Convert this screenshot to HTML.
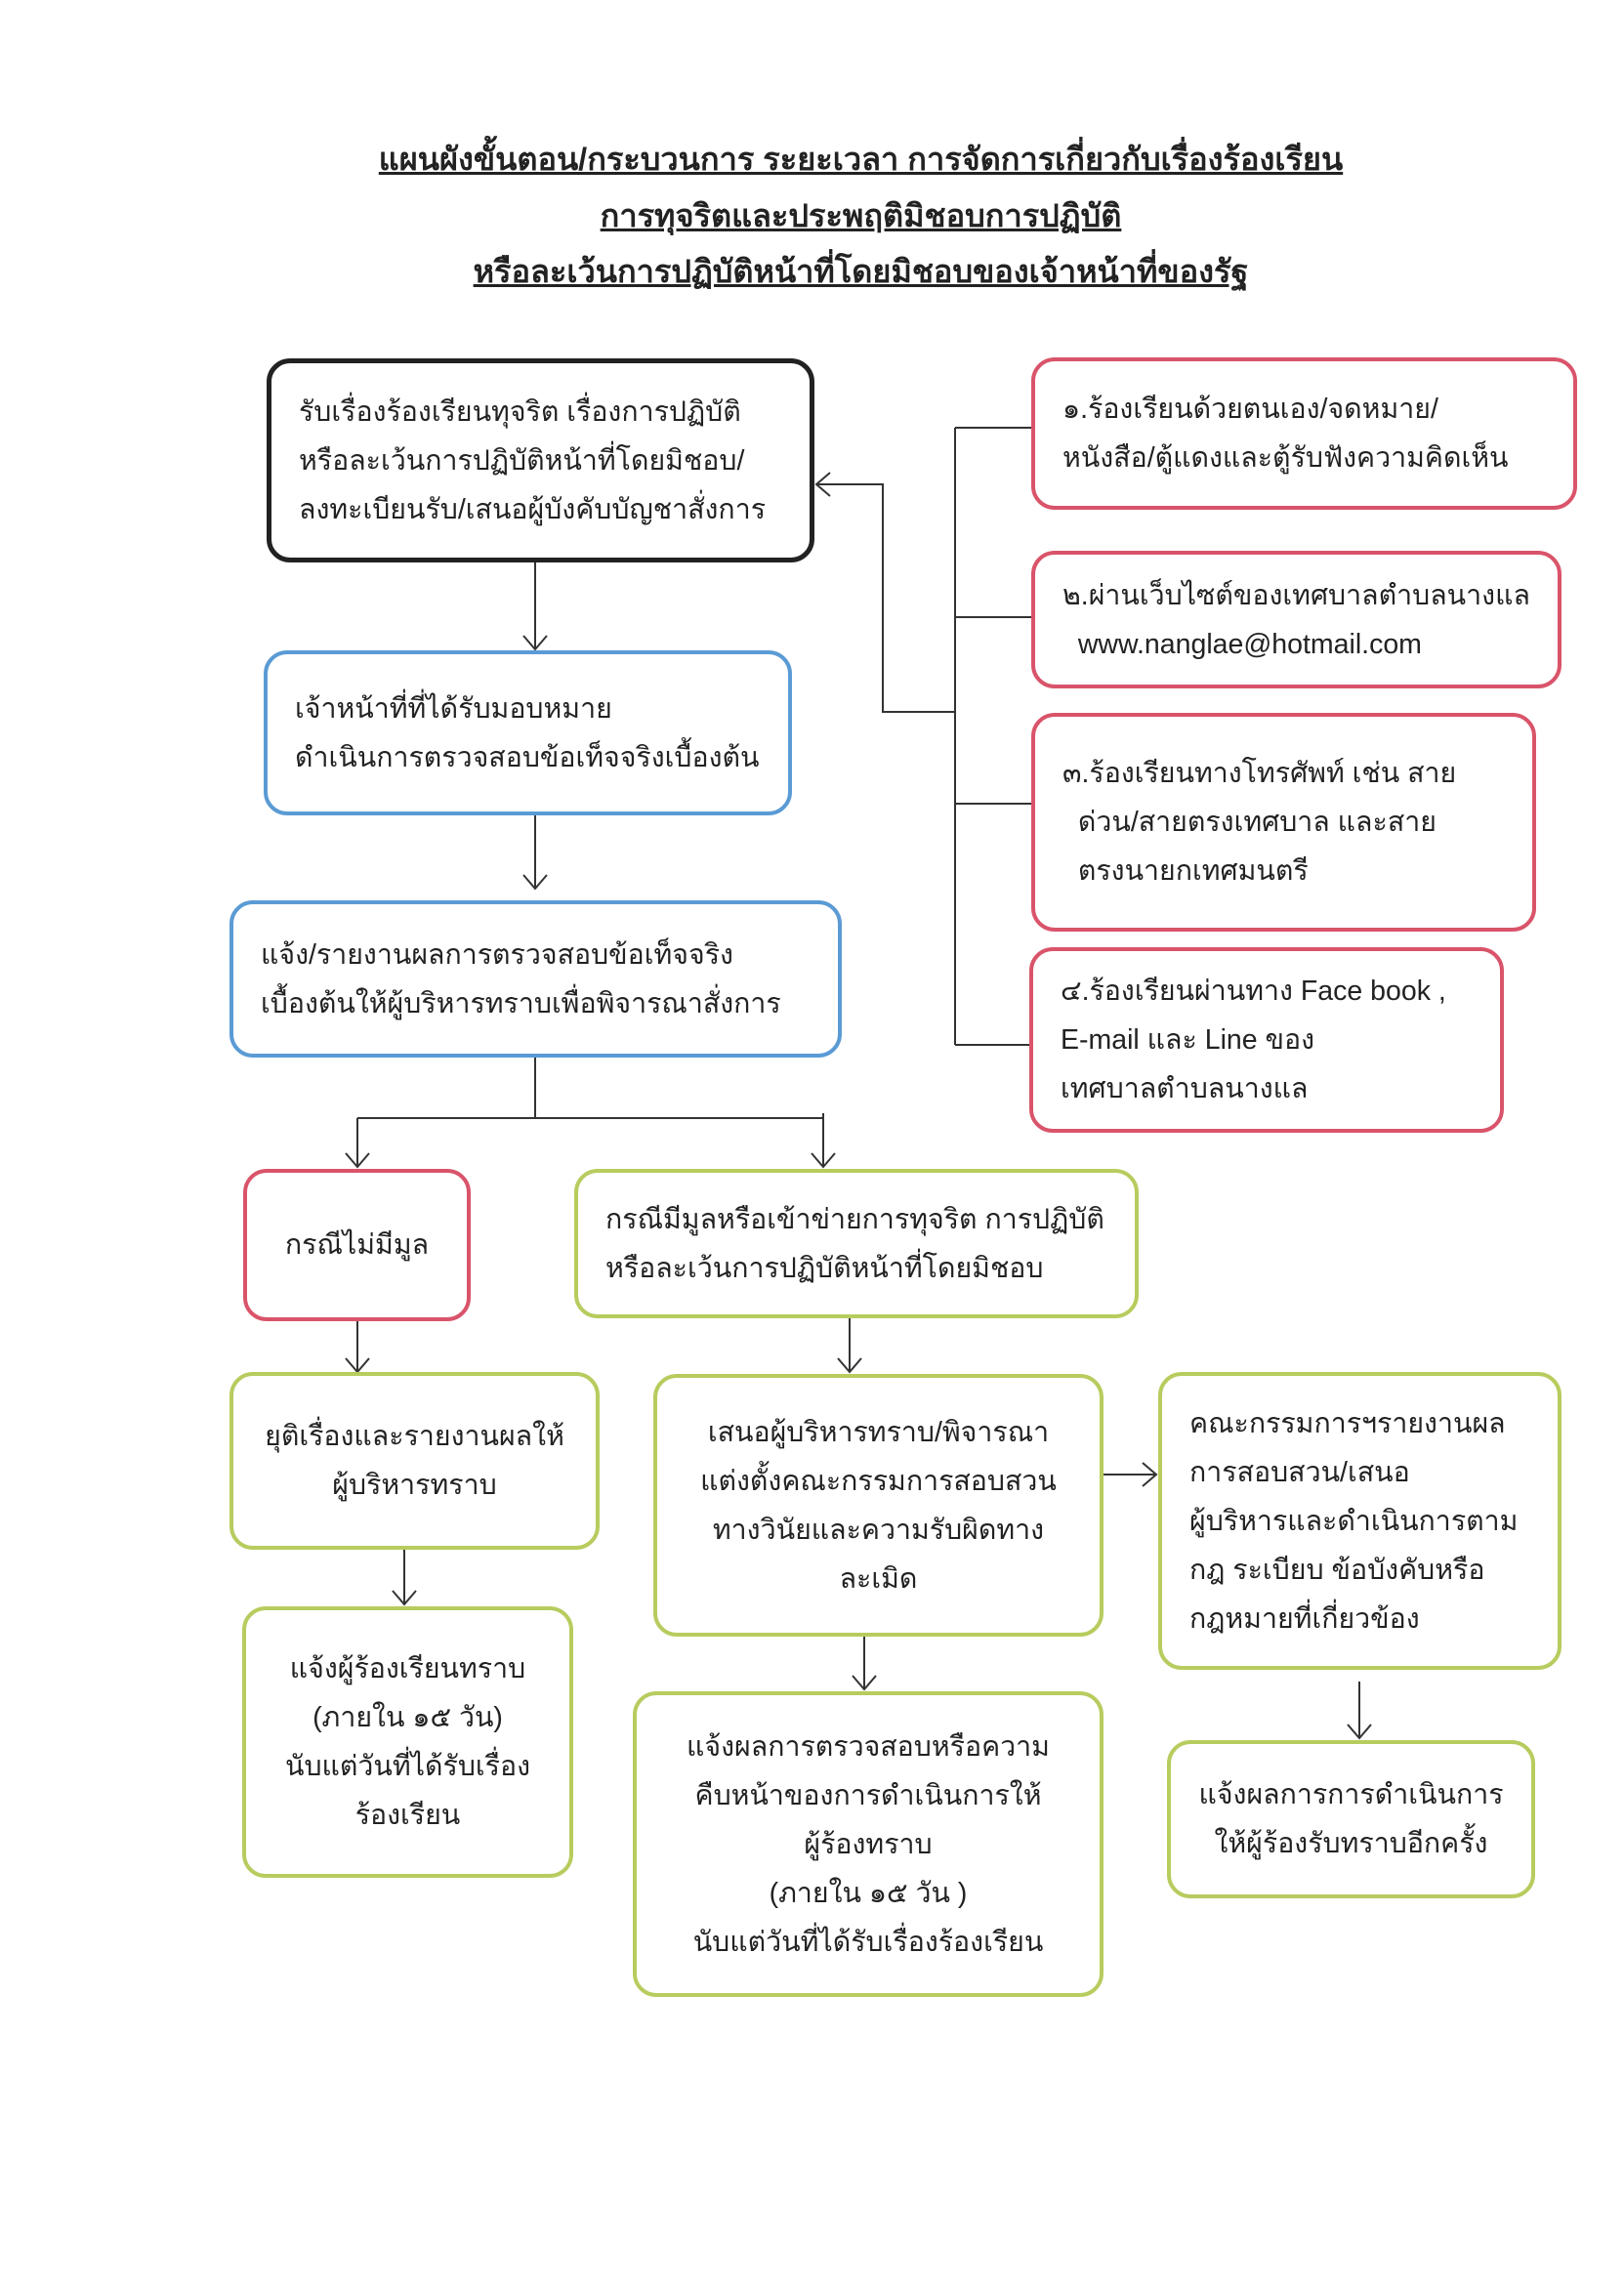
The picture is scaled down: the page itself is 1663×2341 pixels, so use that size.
<!DOCTYPE html>
<html><head><meta charset="utf-8"><style>
body{margin:0;background:#fff;}
#p{position:relative;width:1663px;height:2341px;overflow:hidden;font-family:"Liberation Sans","Noto Sans CJK SC",sans-serif;color:#222;}
.t{position:absolute;left:50px;width:1663px;text-align:center;font-size:32.5px;font-weight:bold;text-decoration:underline;}
.b{position:absolute;box-sizing:border-box;border:4px solid;border-radius:24px;font-size:28.5px;line-height:50px;display:flex;flex-direction:column;justify-content:center;padding:0 28px;}
.k{border-color:#222;border-width:5px}
.bl{border-color:#5b9bd5}
.r{border-color:#d9546a}
.g{border-color:#b7cc5e}
.c{text-align:center;align-items:center}
svg{position:absolute;left:0;top:0}
</style></head><body><div id="p">
<div class="t" style="top:138px">แผนผังขั้นตอน/กระบวนการ ระยะเวลา การจัดการเกี่ยวกับเรื่องร้องเรียน</div>
<div class="t" style="top:196px">การทุจริตและประพฤติมิชอบการปฏิบัติ</div>
<div class="t" style="top:253px">หรือละเว้นการปฏิบัติหน้าที่โดยมิชอบของเจ้าหน้าที่ของรัฐ</div>

<svg width="1663" height="2341"><g stroke="#333" stroke-width="2" fill="none">
<path d="M978 438V1070M978 438H1056M978 632H1056M978 823H1056M978 1070H1054M978 729H904V496H836"/>
<path d="M850 484L836 496L850 508"/>
<path d="M548 576V665M536 651L548 665L560 651"/>
<path d="M548 835V910M536 896L548 910L560 896"/>
<path d="M548 1083V1145M366 1145H843M366 1145V1195M843 1140V1195M354 1181L366 1195L378 1181M831 1181L843 1195L855 1181"/>
<path d="M366 1353V1405M354 1391L366 1405L378 1391"/>
<path d="M414 1587V1643M402 1629L414 1643L426 1629"/>
<path d="M870 1350V1405M858 1391L870 1405L882 1391"/>
<path d="M885 1676V1730M873 1716L885 1730L897 1716"/>
<path d="M1130 1510H1184M1170 1498L1184 1510L1170 1522"/>
<path d="M1392 1722V1780M1380 1766L1392 1780L1404 1766"/>
</g></svg>

<div class="b k" style="left:273px;top:367px;width:561px;height:209px;">รับเรื่องร้องเรียนทุจริต เรื่องการปฏิบัติ<br>หรือละเว้นการปฏิบัติหน้าที่โดยมิชอบ/<br>ลงทะเบียนรับ/เสนอผู้บังคับบัญชาสั่งการ</div>
<div class="b bl" style="left:270px;top:666px;width:541px;height:169px;">เจ้าหน้าที่ที่ได้รับมอบหมาย<br>ดำเนินการตรวจสอบข้อเท็จจริงเบื้องต้น</div>
<div class="b bl" style="left:235px;top:922px;width:627px;height:161px;">แจ้ง/รายงานผลการตรวจสอบข้อเท็จจริง<br>เบื้องต้นให้ผู้บริหารทราบเพื่อพิจารณาสั่งการ</div>

<div class="b r" style="left:1056px;top:366px;width:559px;height:156px;">๑.ร้องเรียนด้วยตนเอง/จดหมาย/<br>หนังสือ/ตู้แดงและตู้รับฟังความคิดเห็น</div>
<div class="b r" style="left:1056px;top:564px;width:543px;height:141px;">๒.ผ่านเว็บไซต์ของเทศบาลตำบลนางแล<br>&nbsp;&nbsp;www.nanglae@hotmail.com</div>
<div class="b r" style="left:1056px;top:730px;width:517px;height:224px;">๓.ร้องเรียนทางโทรศัพท์ เช่น สาย<br>&nbsp;&nbsp;ด่วน/สายตรงเทศบาล และสาย<br>&nbsp;&nbsp;ตรงนายกเทศมนตรี</div>
<div class="b r" style="left:1054px;top:970px;width:486px;height:190px;">๔.ร้องเรียนผ่านทาง Face book ,<br>E-mail และ Line ของ<br>เทศบาลตำบลนางแล</div>

<div class="b r c" style="left:249px;top:1197px;width:233px;height:156px;">กรณีไม่มีมูล</div>
<div class="b g" style="left:588px;top:1197px;width:578px;height:153px;">กรณีมีมูลหรือเข้าข่ายการทุจริต การปฏิบัติ<br>หรือละเว้นการปฏิบัติหน้าที่โดยมิชอบ</div>
<div class="b g c" style="left:235px;top:1405px;width:379px;height:182px;">ยุติเรื่องและรายงานผลให้<br>ผู้บริหารทราบ</div>
<div class="b g c" style="left:248px;top:1645px;width:339px;height:278px;">แจ้งผู้ร้องเรียนทราบ<br>(ภายใน ๑๕ วัน)<br>นับแต่วันที่ได้รับเรื่อง<br>ร้องเรียน</div>
<div class="b g c" style="left:669px;top:1407px;width:461px;height:269px;">เสนอผู้บริหารทราบ/พิจารณา<br>แต่งตั้งคณะกรรมการสอบสวน<br>ทางวินัยและความรับผิดทาง<br>ละเมิด</div>
<div class="b g c" style="left:648px;top:1732px;width:482px;height:313px;">แจ้งผลการตรวจสอบหรือความ<br>คืบหน้าของการดำเนินการให้<br>ผู้ร้องทราบ<br>(ภายใน ๑๕ วัน )<br>นับแต่วันที่ได้รับเรื่องร้องเรียน</div>
<div class="b g" style="left:1186px;top:1405px;width:413px;height:305px;">คณะกรรมการฯรายงานผล<br>การสอบสวน/เสนอ<br>ผู้บริหารและดำเนินการตาม<br>กฎ ระเบียบ ข้อบังคับหรือ<br>กฎหมายที่เกี่ยวข้อง</div>
<div class="b g c" style="left:1195px;top:1782px;width:377px;height:162px;">แจ้งผลการการดำเนินการ<br>ให้ผู้ร้องรับทราบอีกครั้ง</div>
</div></body></html>
